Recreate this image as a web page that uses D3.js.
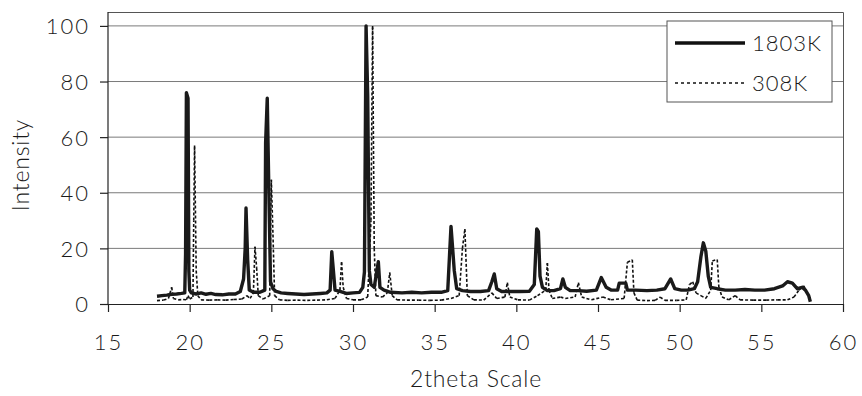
<!DOCTYPE html>
<html>
<head>
<meta charset="utf-8">
<script src="https://cdn.jsdelivr.net/npm/d3@7"></script>
<style>
  body { margin: 0; background: #fff; }
  svg { display: block; }
  text { font-family: Lato, "Open Sans", sans-serif; font-weight: 300; fill: #1a1a1a; }
</style>
</head>
<body>
<script>
// series: 1803K (thick solid)
const x1803 = [18.0, 18.3, 18.6, 18.9, 19.2, 19.5, 19.7, 19.75, 19.8, 19.9, 19.95, 20.0, 20.1, 20.4, 20.7, 21.0, 21.3, 21.6, 22.0, 22.4, 22.8,
  23.1, 23.3, 23.4, 23.45, 23.55, 23.65, 23.9, 24.3, 24.6, 24.65, 24.75, 24.85, 24.95, 25.1, 25.3, 25.6, 26.0, 26.5, 27.0, 27.5, 28.0, 28.4,
  28.6, 28.7, 28.8, 28.9, 29.2, 29.6, 30.0, 30.4, 30.6, 30.7, 30.8, 30.9, 31.0, 31.1, 31.3, 31.55, 31.65, 31.9, 32.3, 33.0, 33.6, 34.2, 34.8,
  35.4, 35.8, 36.0, 36.1, 36.2, 36.35, 36.7, 37.2, 37.8, 38.3, 38.5, 38.65, 38.8, 39.1, 39.6, 40.2, 40.8, 41.1, 41.25, 41.35, 41.45, 41.6,
  41.9, 42.3, 42.7, 42.85, 43.0, 43.3, 43.8, 44.3, 44.9, 45.2, 45.5, 45.8, 46.2, 46.3, 46.7, 46.8, 47.3, 48.0, 48.6, 49.1, 49.45, 49.7,
  50.1, 50.5, 50.9, 51.1, 51.3, 51.45, 51.6, 51.75, 51.9, 52.3, 52.8, 53.4, 54.0, 54.6, 55.2, 55.8, 56.3, 56.6, 56.9, 57.2, 57.5, 57.7,
  57.9, 58.0]
const y1803 = [2.8, 3.0, 3.2, 3.5, 3.6, 3.8, 4.0, 18, 76, 74, 12, 5, 4, 3.6, 4.0, 3.5, 3.8, 3.4, 3.3, 3.6, 3.6,
  4.5, 9, 20, 34.5, 16, 5, 4.2, 4.2, 5, 58, 74, 40, 8, 5.5, 4.5, 4.0, 3.8, 3.6, 3.4, 3.6, 3.8, 4.0,
  5, 18.8, 12, 5, 4.5, 3.8, 4.0, 4.2, 6, 11.5, 100, 75, 12, 7, 6, 15.2, 6, 5, 4.2, 4.0, 4.2, 4.0, 4.2,
  4.2, 4.8, 27.9, 20, 12, 5.5, 4.8, 4.5, 4.5, 4.8, 8, 10.8, 5.5, 4.5, 4.5, 4.5, 4.6, 7, 27, 26, 10, 6,
  4.8, 4.8, 5.5, 9, 6, 4.8, 4.8, 4.6, 5, 9.5, 6, 5, 5, 7.5, 7.5, 5, 5, 4.8, 5, 5.5, 9, 5.5,
  5, 5, 5.5, 8, 17, 22, 19, 10, 6, 5.5, 5, 5, 5.2, 5, 5, 5.5, 6.5, 8, 7.5, 5.5, 6, 5,
  3, 0.8]

// series: 308K (thin dotted)
const x308 = [18.0, 18.4, 18.7, 18.9, 19.0, 19.3, 19.6, 19.8, 19.9, 20.0, 20.2, 20.25, 20.3, 20.4, 20.5, 20.7, 21.2, 21.7, 22.2, 22.7,
  23.2, 23.5, 23.7, 23.9, 24.0, 24.1, 24.2, 24.5, 24.9, 25.0, 25.1, 25.2, 25.5, 26.0, 26.6, 27.2, 27.8, 28.4, 28.9, 29.2, 29.3, 29.4,
  29.6, 30.0, 30.5, 30.9, 31.1, 31.2, 31.3, 31.4, 31.8, 32.1, 32.25, 32.4, 32.7, 33.3, 34.0, 34.7, 35.4, 36.0, 36.5, 36.7, 36.85, 37.0,
  37.4, 38.0, 38.5, 38.8, 39.3, 39.45, 39.6, 40.1, 40.8, 41.3, 41.8, 41.9, 42.0, 42.2, 42.7, 43.0, 43.6, 43.8, 44.0, 44.6, 45.3, 45.8,
  46.6, 46.8, 47.1, 47.2, 47.4, 48.0, 48.5, 48.8, 49.1, 49.8, 50.4, 50.6, 50.8, 51.0, 51.3, 51.6, 51.9, 52.0, 52.3, 52.4, 52.6, 53.0,
  53.4, 53.7, 54.5, 55.3, 56.0, 56.6, 57.0, 57.3, 57.6, 57.8, 58.0]
const y308 = [1.2, 1.4, 2, 6, 2, 1.5, 1.6, 1.5, 3, 1.8, 2.5, 30, 57, 12, 3, 1.5, 1.4, 1.5, 1.4, 1.6,
  1.8, 3, 2, 4, 20.6, 13, 3, 1.8, 3, 44.7, 25, 3, 1.5, 1.3, 1.4, 1.3, 1.4, 1.5, 2, 5, 15, 6,
  2, 1.5, 1.5, 2.5, 30, 100, 20, 3, 2.5, 4, 11.3, 3, 1.5, 1.4, 1.4, 1.3, 1.4, 2, 3, 20, 27, 3,
  1.5, 1.4, 4, 2, 2.5, 7.7, 2.5, 1.5, 1.4, 3, 5, 14.7, 5, 2, 2.5, 2, 2.5, 7.7, 2.5, 1.5, 2.5, 1.5,
  2, 15, 15.9, 4, 1.4, 1.2, 1.3, 2.5, 1.3, 1.3, 1.5, 7, 8, 4, 3, 2, 5, 15.5, 16, 6, 2.5, 1.5,
  3, 1.5, 1.4, 1.4, 1.5, 1.5, 2.5, 5, 6.5, 4, 2]

const xTicks = [15, 20, 25, 30, 35, 40, 45, 50, 55, 60]
const yTicks = [0, 20, 40, 60, 80, 100]
const seriesNames = ['1803K', '308K']

const W = 862, H = 396
const margin = {top: 12, left: 108, right: 19, bottom: 92}
const plotR = W - margin.right, plotB = H - margin.bottom

const svg = d3.select('body').append('svg').attr('width', W).attr('height', H)

const x = d3.scaleLinear().domain([15, 60]).range([margin.left, plotR])
const y = d3.scaleLinear().domain([0, 105]).range([plotB, margin.top])

// gridlines
svg.append('g').selectAll('line').data(yTicks.filter(d => d > 0)).enter().append('line')
  .attr('x1', margin.left).attr('x2', plotR)
  .attr('y1', d => y(d)).attr('y2', d => y(d))
  .attr('stroke', '#7a7a7a').attr('stroke-width', 1)

// plot border top / right
svg.append('path')
  .attr('d', `M${margin.left},${margin.top + 0.5}H${plotR + 0.5}V${plotB}`)
  .attr('fill', 'none').attr('stroke', '#555').attr('stroke-width', 1)

// axes
const xAxis = d3.axisBottom(x).tickValues(xTicks).tickSize(8).tickSizeOuter(0)
const yAxis = d3.axisLeft(y).tickValues(yTicks).tickSize(8).tickSizeOuter(0)
const gX = svg.append('g').attr('transform', `translate(0, ${plotB})`).call(xAxis)
const gY = svg.append('g').attr('transform', `translate(${margin.left}, 0)`).call(yAxis)
gY.select('.domain').attr('d', `M0,${margin.top}V${plotB}`)
;[gX, gY].forEach(g => {
  g.selectAll('.domain, .tick line').attr('stroke', '#222').attr('stroke-width', 1.2)
  g.selectAll('.tick text').attr('font-size', 22).attr('font-family', 'Lato, sans-serif')
    .attr('font-weight', 300).attr('fill', '#1a1a1a').attr('letter-spacing', 2)
})
gX.selectAll('.tick text').attr('dy', null).attr('y', 46)
gY.selectAll('.tick text').attr('x', -18).attr('dy', '0.36em')

// 308K: segment by segment so the dash pattern restarts (like the original)
const line = d3.line().x(d => x(d[0])).y(d => y(d[1]))
const pts308 = x308.map((v, i) => [v, y308[i]])
const segs = d3.pairs(pts308)
svg.append('g').selectAll('path').data(segs).enter().append('path')
  .attr('d', d => line(d))
  .attr('fill', 'none').attr('stroke', '#111').attr('stroke-width', 1.6)
  .attr('stroke-dasharray', '3,2')

// 1803K
const pts1803 = x1803.map((v, i) => [v, y1803[i]])
svg.append('path').datum(pts1803)
  .attr('d', line)
  .attr('fill', 'none').attr('stroke', '#1a1a1a').attr('stroke-width', 3.4)
  .attr('stroke-linejoin', 'round')

// axis titles
svg.append('text').attr('x', 476).attr('y', 387).attr('text-anchor', 'middle')
  .attr('font-size', 23).attr('letter-spacing', 0.8).text('2theta Scale')
svg.append('text').attr('transform', 'translate(29, 165) rotate(-90)').attr('text-anchor', 'middle')
  .attr('font-size', 23).attr('letter-spacing', 0.8).text('Intensity')

// legend
const lg = svg.append('g').attr('transform', 'translate(667, 21)')
lg.append('rect').attr('width', 165).attr('height', 81).attr('fill', '#fff')
  .attr('stroke', '#555').attr('stroke-width', 1)
const styles = [{w: 3.6, dash: null}, {w: 1.6, dash: '3,3'}]
seriesNames.forEach((name, i) => {
  const yy = 22 + i * 40
  lg.append('line').attr('x1', 8).attr('x2', 78).attr('y1', yy).attr('y2', yy)
    .attr('stroke', '#111').attr('stroke-width', styles[i].w)
    .attr('stroke-dasharray', styles[i].dash)
  lg.append('text').attr('x', 85).attr('y', yy).attr('dy', '0.36em')
    .attr('font-size', 22).attr('letter-spacing', 1).text(name)
})
</script>
</body>
</html>
